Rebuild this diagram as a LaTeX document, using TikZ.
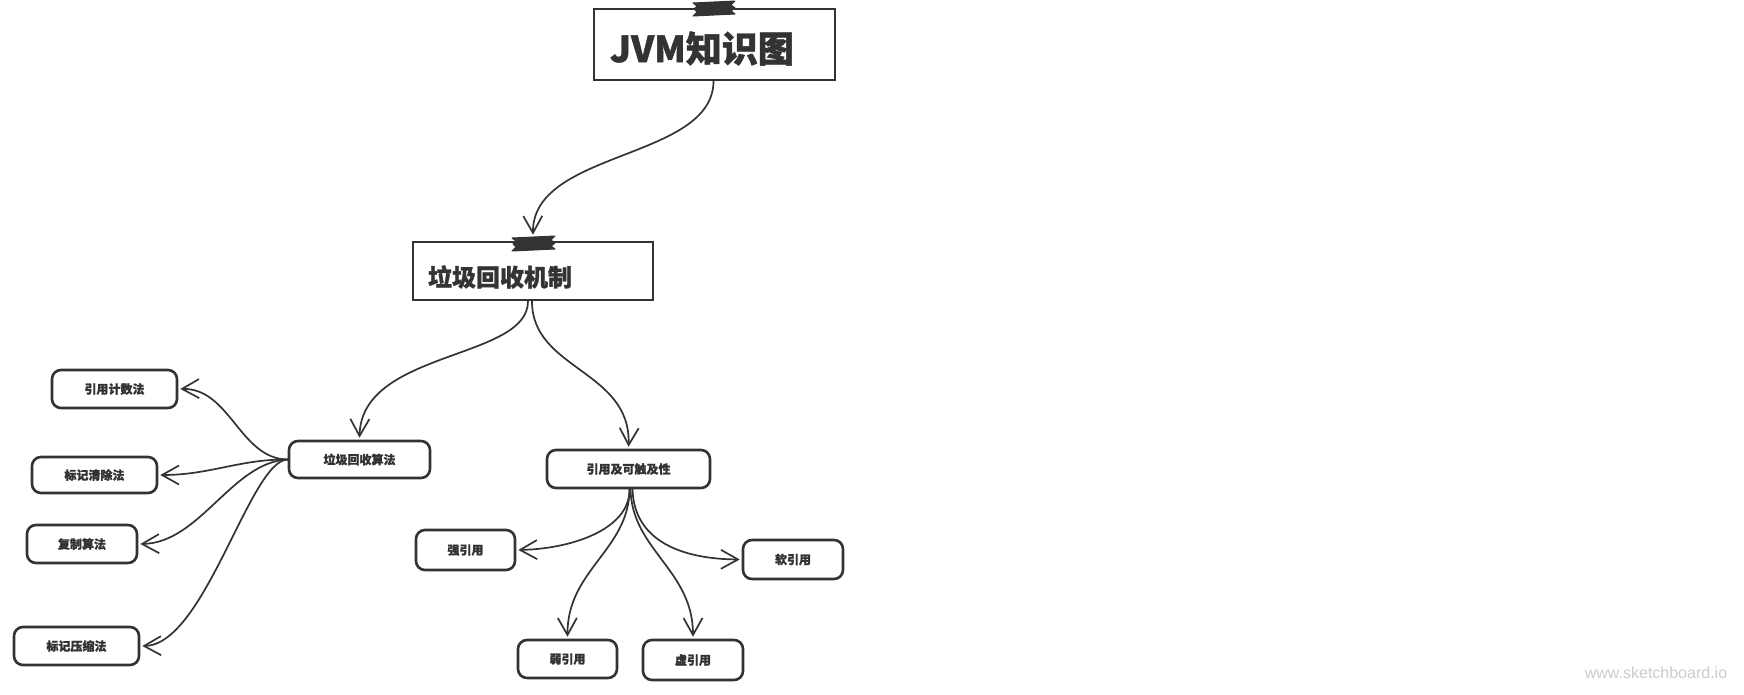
\documentclass[tikz,border=0pt]{standalone}
\usepackage{fontspec}
\newfontfamily\cjk{Noto Sans CJK SC}[BoldFeatures={FakeBold=1.2}]
\newfontfamily\wmfont{Liberation Sans}
\usetikzlibrary{arrows.meta}
\definecolor{inkc}{HTML}{333333}
\definecolor{wmc}{HTML}{CCCCCC}
\tikzset{
  bigbox/.style={draw=inkc, line width=2.6pt, rectangle, align=left, text=inkc},
  smallbox/.style={draw=inkc, line width=2.6pt, rounded corners=9pt, text=inkc, inner sep=0pt,
    font=\cjk\bfseries\fontsize{12}{14}\selectfont},
  conn/.style={draw=inkc, line width=1.7pt, line join=round, line cap=round, shorten >=2pt,
    -{Straight Barb[length=17pt,width=19pt,line width=1.7pt]}},
  tape/.style={fill=inkc, draw=inkc, line width=1pt, line join=round},
}
\begin{document}
\begin{tikzpicture}[x=1pt,y=-1pt]
\fill[white] (0,0) rectangle (1744,694);
\useasboundingbox (0,0) rectangle (1744,694);

% top boxes
\node[bigbox, minimum height=71pt, text width=209pt, inner xsep=16pt,
  font=\cjk\bfseries\fontsize{36}{40}\selectfont] (jvm) at (714.5,44.5) {\raisebox{-4pt}[\height][\depth]{JVM知识图}};
\node[bigbox, minimum height=58pt, text width=210pt, inner xsep=15pt,
  font=\cjk\bfseries\fontsize{24}{28}\selectfont] (gcm) at (533,271) {\raisebox{-6pt}[\height][\depth]{垃圾回收机制}};

% tapes
\filldraw[tape] (693,3) -- (697,6) -- (694,9) -- (697,12) -- (693,16) -- (735,14) -- (731,11) -- (735,8) -- (731,5) -- (735,1) -- cycle;
\filldraw[tape] (512,238) -- (516,241) -- (513,244) -- (516,247) -- (512,251) -- (555,249) -- (551,246) -- (555,243) -- (551,240) -- (555,236) -- cycle;

% small boxes
\node[smallbox, minimum width=141pt, minimum height=37pt] (gca) at (359.5,459.5) {垃圾回收算法};
\node[smallbox, minimum width=125pt, minimum height=38pt] (yyjs) at (114.5,389) {引用计数法};
\node[smallbox, minimum width=125pt, minimum height=36pt] (bjqc) at (94.5,475) {标记清除法};
\node[smallbox, minimum width=110pt, minimum height=38pt] (fz) at (82,544) {复制算法};
\node[smallbox, minimum width=125pt, minimum height=38pt] (bjys) at (76.5,646) {标记压缩法};
\node[smallbox, minimum width=163pt, minimum height=38pt] (yy) at (628.5,469) {引用及可触及性};
\node[smallbox, minimum width=99pt, minimum height=40pt] (qyy) at (465.5,550) {强引用};
\node[smallbox, minimum width=100pt, minimum height=39pt] (ryy) at (793,559.5) {软引用};
\node[smallbox, minimum width=99pt, minimum height=38pt] (wyy) at (567.5,659) {弱引用};
\node[smallbox, minimum width=100pt, minimum height=40pt] (xyy) at (693,660) {虚引用};

% watermark
\node[font=\wmfont\fontsize{16}{18}\selectfont, text=wmc] (wm) at (1656,673) {www.sketchboard.io};

% connectors
\draw[conn] ([xshift=-1pt]jvm.south) .. controls (713,160) and (532,150) .. ([yshift=4pt]gcm.north);
\draw[conn] ([xshift=-5pt]gcm.south) .. controls (528,360) and (361,350) .. (gca.north);
\draw[conn] ([xshift=-1pt]gcm.south) .. controls (532,370) and (631,370) .. (yy.north);

\draw[conn] (gca.west) .. controls (240,459) and (230,388) .. (yyjs.east);
\draw[conn] (gca.west) .. controls (240,459) and (210,475) .. (bjqc.east);
\draw[conn] (gca.west) .. controls (232,462) and (200,543) .. (fz.east);
\draw[conn] (gca.west) .. controls (250,460) and (205,645) .. (bjys.east);

\draw[conn] ([xshift=1pt]yy.south) .. controls (630,530) and (570,549) .. (qyy.east);
\draw[conn] ([xshift=4pt]yy.south) .. controls (634,540) and (680,559) .. (ryy.west);
\draw[conn] ([xshift=1pt]yy.south) .. controls (629,550) and (567,570) .. (wyy.north);
\draw[conn] ([xshift=2pt]yy.south) .. controls (632,550) and (693,570) .. (xyy.north);
\end{tikzpicture}
\end{document}
